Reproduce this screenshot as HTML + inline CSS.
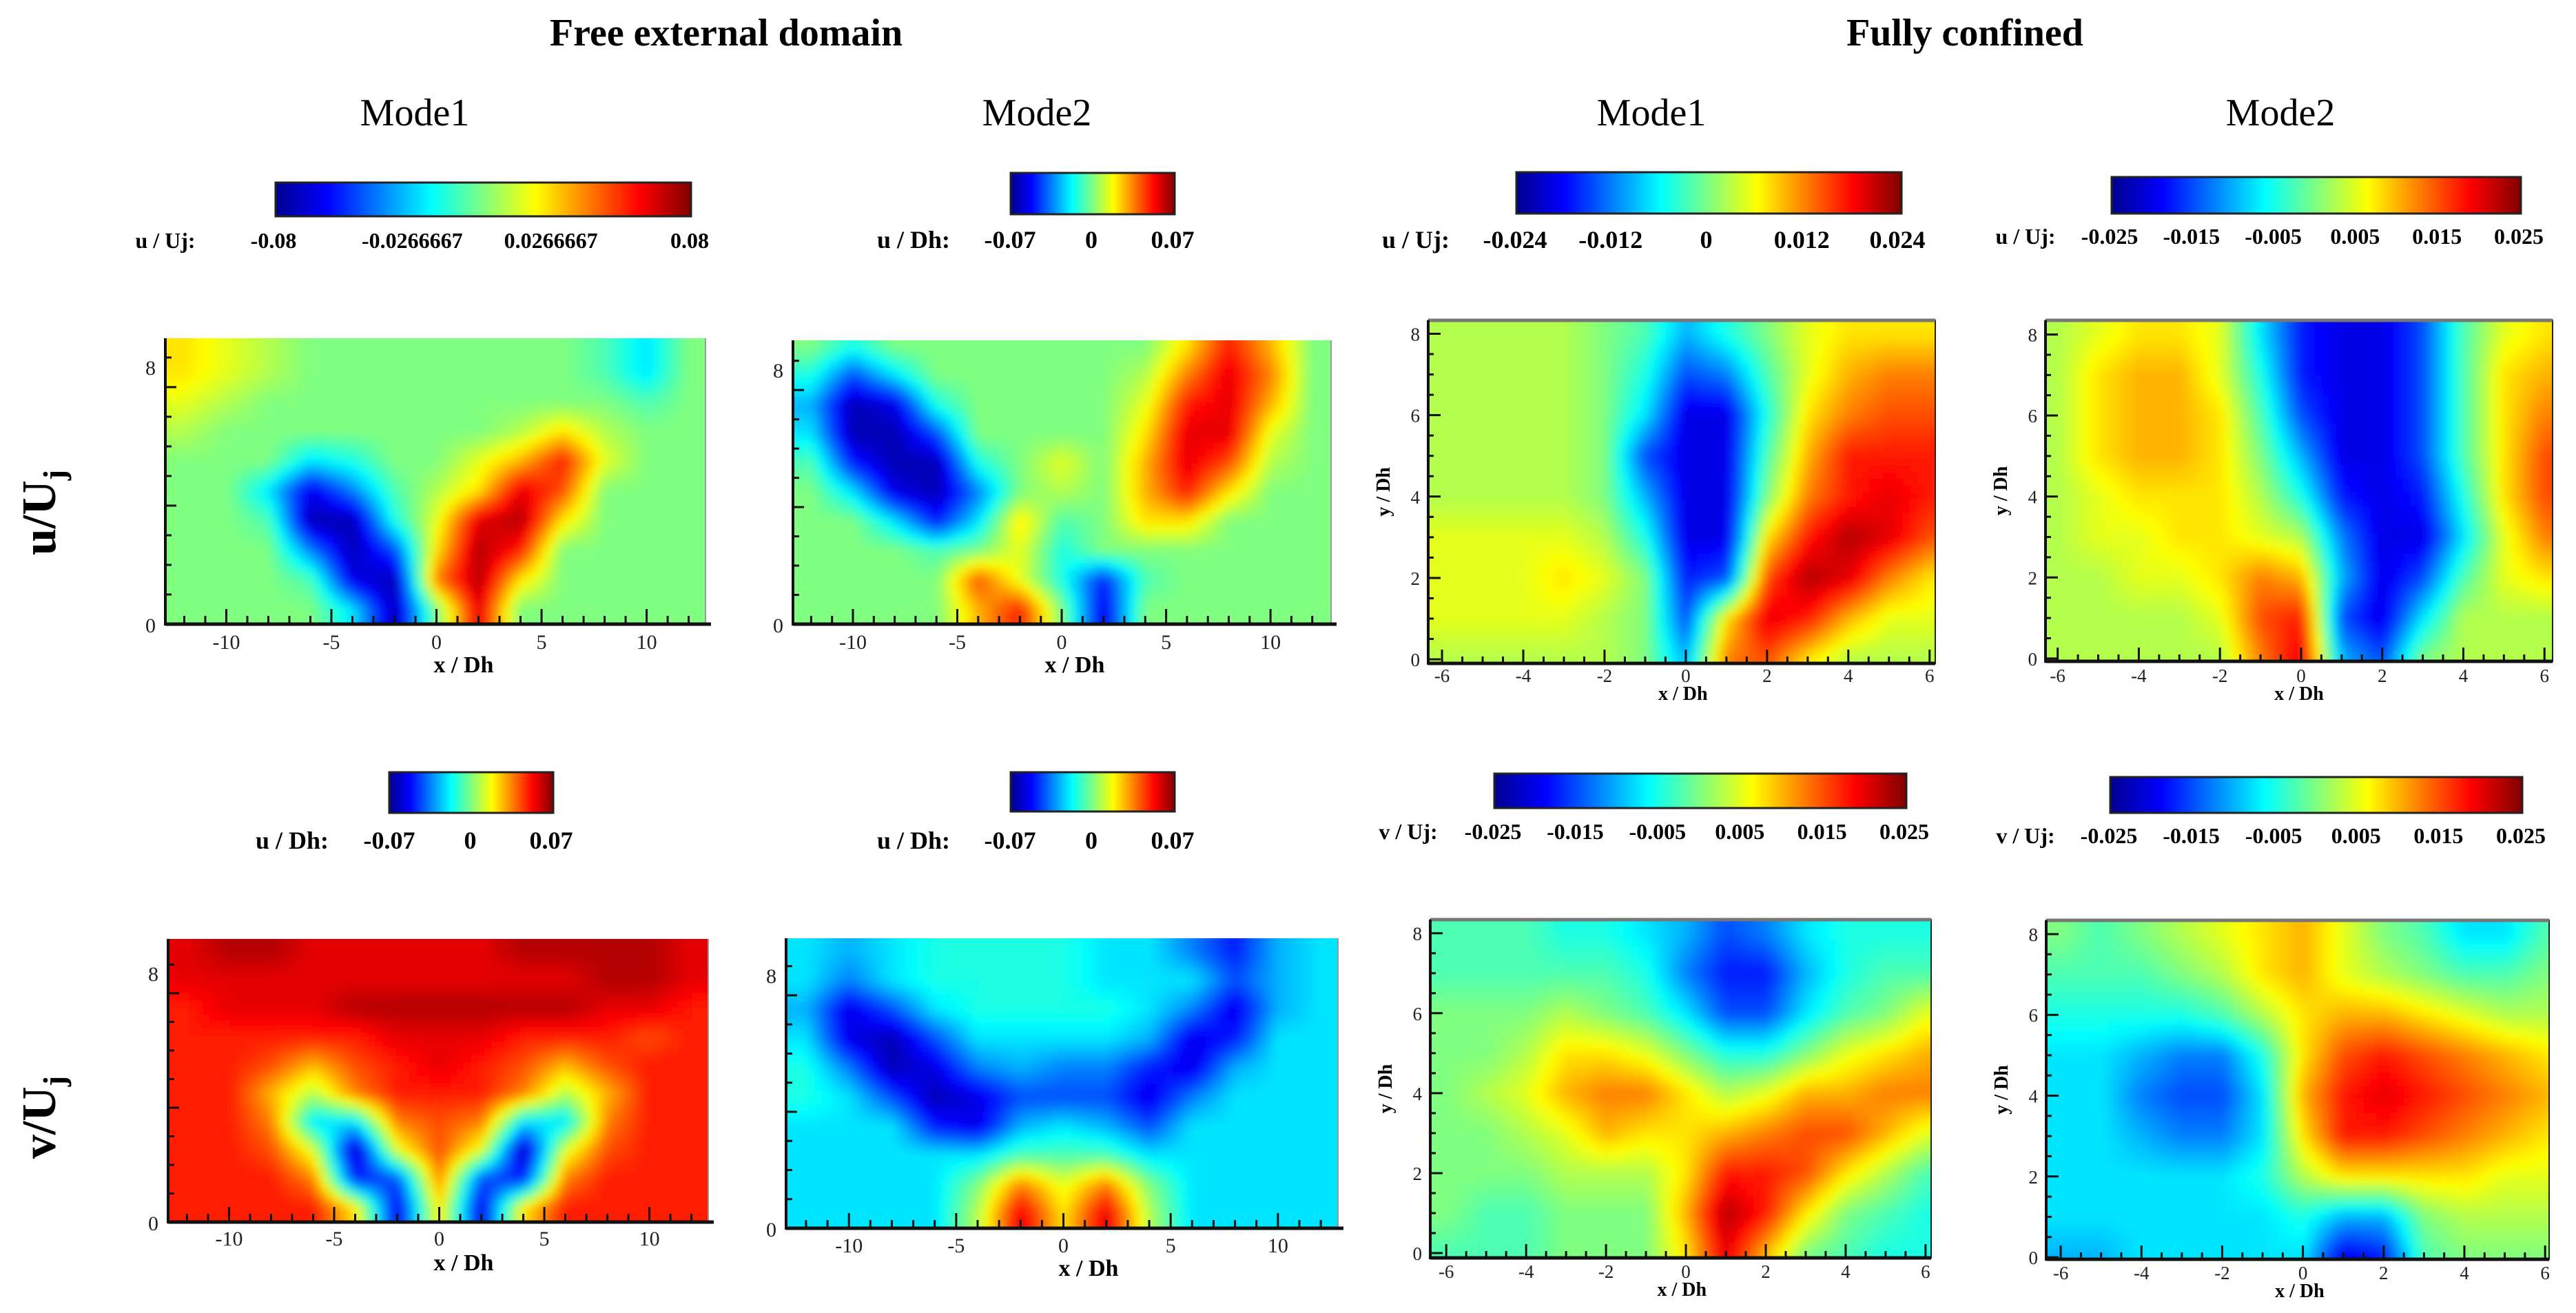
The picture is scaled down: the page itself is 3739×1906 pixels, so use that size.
<!DOCTYPE html>
<html><head><meta charset="utf-8"><style>
html,body{margin:0;padding:0;background:#fff;width:3739px;height:1906px;overflow:hidden;}
svg{display:block;font-family:"Liberation Serif",serif;}
</style></head><body>
<svg id="fig" xmlns="http://www.w3.org/2000/svg" width="3739" height="1906" viewBox="0 0 3739 1906">
<defs>
<linearGradient id="jetGrad" x1="0" x2="1" y1="0" y2="0">
<stop offset="0" stop-color="#00008f"/><stop offset="0.125" stop-color="#0000ff"/><stop offset="0.375" stop-color="#00ffff"/><stop offset="0.5" stop-color="#80ff80"/><stop offset="0.625" stop-color="#ffff00"/><stop offset="0.875" stop-color="#ff0000"/><stop offset="1" stop-color="#800000"/>
</linearGradient>
<filter id="blurSoft" x="-0.1" y="-0.1" width="1.2" height="1.2"><feGaussianBlur stdDeviation="7"/></filter>
</defs>
<text x="1054" y="66" font-size="56" font-weight="bold" text-anchor="middle">Free external domain</text>
<text x="2852" y="66" font-size="56" font-weight="bold" text-anchor="middle">Fully confined</text>
<text x="602" y="182" font-size="56" text-anchor="middle">Mode1</text>
<text x="1505" y="182" font-size="56" text-anchor="middle">Mode2</text>
<text x="2397" y="182" font-size="56" text-anchor="middle">Mode1</text>
<text x="3310" y="182" font-size="56" text-anchor="middle">Mode2</text>
<text transform="translate(80,744) rotate(-90)" font-size="70" font-weight="bold" text-anchor="middle">u/U<tspan font-size="46" dy="14">j</tspan></text>
<text transform="translate(80,1622) rotate(-90)" font-size="70" font-weight="bold" text-anchor="middle">v/U<tspan font-size="46" dy="14">j</tspan></text>
</svg>
<script>
const freeXCenters=[-12,-10,-8,-6,-4,-2,0,2,4,6,8,10,12];
const freeYCenters=[9.5,8.5,7.5,6.5,5.5,4.5,3.5,2.5,1.5,0.5];
const confXCenters=[-6,-5,-4,-3,-2,-1,0,1,2,3,4,5,6];
const confYCenters=[8,7,6,5,4,3,2,1,0];
const p1Values=[
[3,2,1,0,0,0,0,0,0,0,-1,-3,0],
[3,2,1,0,0,0,0,0,0,0,-1,-3,0],
[2,1,0,0,0,0,0,0,0,0,0,-1,0],
[1,0,0,0,0,0,0,0,1,3,1,0,0],
[0,0,0,-3,-2,0,0,2,4,7,2,0,0],
[0,0,-3,-8,-5,-1,1,3,8,6,0,0,0],
[0,0,-1,-9,-9,-2,2,8,9,3,0,0,0],
[0,0,0,-5,-9,-6,3,9,7,0,0,0,0],
[0,0,0,-1,-8,-9,5,9,3,0,0,0,0],
[0,0,0,0,-3,-9,0,8,0,0,0,0,0]];
const p2Values=[
[0,-2,0,0,0,0,0,0,0,3,7,4,0],
[-2,-6,-3,0,0,0,0,0,1,5,8,5,0],
[-4,-9,-8,-2,0,0,0,0,2,7,8,4,0],
[-3,-9,-9,-6,0,0,0,0,3,8,8,2,0],
[-1,-7,-9,-9,-2,0,2,0,4,8,6,1,0],
[0,-3,-8,-9,-5,0,1,0,4,7,3,0,0],
[0,0,-3,-7,-3,3,-1,0,3,3,0,0,0],
[0,0,0,-1,0,2,-2,0,0,0,0,0,0],
[0,0,0,0,6,2,-2,-7,-1,0,0,0,0],
[0,0,0,0,4,7,0,-8,0,0,0,0,0]];
const p5Values=[
[8,9,9,8,8,8,8,8,9,9,9,9,8],
[8,8,8,8,8,8,8,8,8,8,9,9,8],
[7,8,8,8,9,9,9,9,9,9,8,8,7],
[7,7,7,7,7,8,8,8,7,7,7,6,7],
[7,7,6,4,6,7,8,7,6,4,6,7,7],
[7,7,4,1,5,7,7,7,5,1,4,7,7],
[7,7,5,-3,-3,5,6,5,-3,-3,5,7,7],
[7,7,6,2,-9,2,6,2,-9,2,6,7,7],
[7,7,7,5,-7,-6,5,-6,-7,5,7,7,7],
[7,7,7,7,3,-8,3,-8,3,7,7,7,7]];
const p6Values=[
[-3,-4,-3,-2,-2,-2,-2,-3,-3,-5,-7,-4,-3],
[-3,-5,-3,-2,-2,-2,-2,-3,-3,-3,-6,-4,-3],
[-4,-8,-6,-3,-2,-2,-2,-2,-3,-5,-8,-4,-3],
[-3,-8,-9,-6,-3,-3,-3,-3,-4,-8,-7,-3,-3],
[-2,-5,-9,-8,-5,-4,-5,-5,-7,-8,-4,-3,-3],
[-2,-3,-6,-9,-8,-6,-6,-6,-8,-5,-3,-3,-3],
[-3,-3,-3,-7,-8,-4,-3,-4,-6,-3,-3,-3,-3],
[-3,-3,-3,-3,-3,-1,-1,-1,-3,-3,-3,-3,-3],
[-3,-3,-3,-3,0,5,2,5,0,-3,-3,-3,-3],
[-3,-3,-3,-3,1,8,3,8,1,-3,-3,-3,-3]];
const p3Values=[
[1,1,1,1,0,-1,-4,-2,0,2,3,3,3],
[1,1,1,1,0,-2,-6,-5,-1,2,4,5,5],
[1,1,1,1,0,-3,-8,-8,-2,3,5,6,6],
[1,1,1,1,0,-6,-8,-8,-1,4,7,7,7],
[1,1,1,1,0,-4,-8,-8,0,5,7,8,7],
[2,2,2,2,1,-2,-8,-8,3,7,9,8,6],
[2,2,2,3,2,0,-7,-6,6,9,8,5,3],
[2,2,2,2,1,0,-6,3,8,7,4,2,2],
[1,1,1,1,1,0,-4,5,6,3,1,1,1]];
const p4Values=[
[1,2,3,3,2,-3,-7,-8,-8,-6,-1,2,3],
[1,3,4,4,2,-2,-7,-8,-8,-6,-1,3,4],
[1,3,4,4,3,-1,-6,-8,-8,-6,-1,3,5],
[1,3,4,4,3,0,-4,-8,-8,-6,-1,3,6],
[1,2,3,3,3,1,-2,-7,-8,-7,-2,3,6],
[1,2,2,3,3,2,1,-5,-8,-8,-3,2,5],
[1,1,2,2,3,5,4,-4,-8,-6,-1,2,3],
[1,1,1,1,2,6,7,-6,-8,-3,1,1,1],
[1,1,1,1,1,5,8,-4,-6,0,1,1,1]];
const p7Values=[
[-1,-1,-1,-2,-2,-3,-4,-6,-5,-3,-2,-2,-2],
[-1,-1,-1,-1,-1,-2,-5,-7,-7,-4,-2,-1,-1],
[0,0,0,1,0,-1,-3,-6,-6,-3,-1,0,2],
[0,0,1,3,3,2,0,-2,-2,0,2,3,4],
[0,1,2,4,5,5,3,1,2,4,4,5,5],
[0,0,1,2,4,3,3,4,5,6,6,4,2],
[0,0,0,1,1,1,3,7,7,6,3,1,-1],
[0,-1,-1,0,0,0,4,9,7,3,0,-1,-2],
[-1,-1,-1,0,0,0,3,8,4,0,-1,-2,-2]];
const p8Values=[
[0,-1,0,1,2,3,4,2,0,-1,-3,-3,-1],
[-1,-1,-1,0,1,3,4,2,1,0,-1,-1,0],
[-2,-2,-2,-2,-1,1,3,4,4,3,2,1,1],
[-3,-3,-4,-5,-5,-2,3,6,7,6,5,4,3],
[-3,-3,-5,-6,-6,-3,4,7,8,7,6,5,4],
[-3,-3,-4,-5,-5,-3,3,7,7,6,5,4,3],
[-3,-3,-3,-3,-3,-2,1,3,3,3,3,2,2],
[-3,-3,-3,-3,-3,-3,-2,-4,-4,0,1,1,1],
[-4,-4,-3,-3,-3,-3,-3,-8,-7,-1,0,0,0]];
const freeXTicks=[-10,-5,0,5,10];
const freeYTickLabels=[0,8];
const confXTicks=[-6,-4,-2,0,2,4,6];
const confYTicks=[0,2,4,6,8];
const cb1Labels=["-0.08","-0.0266667","0.0266667","0.08"];
const cbSmallLabels=["-0.07","0","0.07"];
const cb3Labels=["-0.024","-0.012","0","0.012","0.024"];
const cb025Labels=["-0.025","-0.015","-0.005","0.005","0.015","0.025"];

const NS="http://www.w3.org/2000/svg";
const fig=document.getElementById('fig');
function mk(tag,attrs,parent){const e=document.createElementNS(NS,tag);for(const k in attrs)e.setAttribute(k,attrs[k]);(parent||fig).appendChild(e);return e;}
function jet(v){const t=Math.max(0,Math.min(1,(v+1)/2));const c=x=>Math.round(255*Math.max(0,Math.min(1,1.5-Math.abs(4*t-x))));return `rgb(${c(3)},${c(2)},${c(1)})`;}
function sample(vals,xc,yc,x,y){
  const nx=xc.length,ny=yc.length;
  let fx=(x-xc[0])/(xc[nx-1]-xc[0])*(nx-1); fx=Math.max(0,Math.min(nx-1,fx));
  let fy=(yc[0]-y)/(yc[0]-yc[ny-1])*(ny-1); fy=Math.max(0,Math.min(ny-1,fy));
  const i0=Math.min(ny-2,Math.floor(fy)),j0=Math.min(nx-2,Math.floor(fx));
  const ty=fy-i0,tx=fx-j0;
  const a=vals[i0][j0],b=vals[i0][j0+1],c=vals[i0+1][j0],d=vals[i0+1][j0+1];
  return (a*(1-tx)+b*tx)*(1-ty)+(c*(1-tx)+d*tx)*ty;
}

function drawPlot(name,L,R,T,B,x0,x1,y0,y1,xc,yc,vals,free){
  const xs=v=>L+(v-x0)/(x1-x0)*(R-L);
  const ys=v=>B-(v-y0)/(y1-y0)*(B-T);
  const xi=px=>x0+(px-L)/(R-L)*(x1-x0);
  const yi=py=>y0+(B-py)/(B-T)*(y1-y0);
  const g=mk('g',{});
  
  
  const inner=mk('svg',{x:L,y:T,width:R-L,height:B-T,overflow:'hidden'},g);
  const cg=mk('g',{filter:'url(#blurSoft)',transform:`translate(${-L},${-T})`},inner);
  const step=10;
  for(let py=T-20;py<B+20;py+=step){
    for(let px=L-20;px<R+20;px+=step){
      const v=sample(vals,xc,yc,xi(px+step/2),yi(py+step/2));
      const r=mk('rect',{x:px,y:py,width:step+0.6,height:step+0.6,fill:jet(v/10)},cg);
      
      
    }
  }
  if(free){
    mk('line',{x1:R,y1:T,x2:R,y2:B,stroke:'#999','stroke-width':2},g);
  }else{
    mk('rect',{x:L,y:T,width:R-L,height:B-T,fill:'none',stroke:'#222','stroke-width':2},g);
    mk('line',{x1:L,y1:T,x2:R,y2:T,stroke:'#777','stroke-width':5},g);
  }
  mk('line',{x1:L,y1:T,x2:L,y2:B+2,stroke:'#111','stroke-width':4},g);
  mk('line',{x1:L,y1:B,x2:R+(free?8:0),y2:B,stroke:'#111','stroke-width':5},g);
  return {xs,ys,g};
}

function freeAxes(p,L,B,lblX,lblY,tlY){
  for(let v=-12;v<=12;v++){
    const maj=v%5===0;
    mk('line',{x1:p.xs(v),y1:B,x2:p.xs(v),y2:B-(maj?22:12),stroke:'#111','stroke-width':3},p.g);
  }
  freeXTicks.forEach(v=>{
    const t=mk('text',{x:p.xs(v),y:tlY,'font-size':30,'text-anchor':'middle',fill:'#222'},p.g);t.textContent=String(v);
    
  });
  for(let v=1;v<=9;v++){
    const maj=v%4===0;
    mk('line',{x1:L,y1:p.ys(v),x2:L+(maj?16:9),y2:p.ys(v),stroke:'#111','stroke-width':3},p.g);
  }
  freeYTickLabels.forEach(v=>{
    const t=mk('text',{x:L-14,y:p.ys(v)+(v===0?12:-18),'font-size':30,'text-anchor':'end',fill:'#222'},p.g);t.textContent=String(v);
    
  });
  const xl=mk('text',{x:lblX,y:lblY,'font-size':34,'font-weight':'bold','text-anchor':'middle'},p.g);xl.textContent='x / Dh';
  
}
function confAxes(p,L,T,B,tlY,lblY){
  for(let v=-6;v<=6;v+=0.5){
    const maj=Number.isInteger(v/2);
    mk('line',{x1:p.xs(v),y1:B,x2:p.xs(v),y2:B-(maj?20:10),stroke:'#111','stroke-width':3},p.g);
  }
  confXTicks.forEach(v=>{
    const t=mk('text',{x:p.xs(v),y:tlY,'font-size':27,'text-anchor':'middle',fill:'#222'},p.g);t.textContent=String(v);
    
  });
  for(let v=0;v<=8;v+=0.5){
    const maj=Number.isInteger(v/2);
    mk('line',{x1:L,y1:p.ys(v),x2:L+(maj?18:8),y2:p.ys(v),stroke:'#111','stroke-width':3},p.g);
  }
  confYTicks.forEach(v=>{
    const t=mk('text',{x:L-12,y:p.ys(v)+10,'font-size':27,'text-anchor':'end',fill:'#222'},p.g);t.textContent=String(v);
    
  });
  const xl=mk('text',{x:(L+p.xs(6.2))/2,y:lblY,'font-size':28,'font-weight':'bold','text-anchor':'middle'},p.g);xl.textContent='x / Dh';
  
  const yl=mk('text',{transform:`translate(${L-56},${(T+B)/2}) rotate(-90)`,'font-size':28,'font-weight':'bold','text-anchor':'middle'},p.g);yl.textContent='y / Dh';
  
}

let p;
p=drawPlot('plot-free-u-mode1',240,1024,491,906,-12.9,12.8,0,9.65,freeXCenters,freeYCenters,p1Values,true);
freeAxes(p,240,906,673,976,942);
p=drawPlot('plot-free-u-mode2',1151,1932,494,906,-12.87,12.9,0,9.7,freeXCenters,freeYCenters,p2Values,true);
freeAxes(p,1151,906,1560,976,942);
p=drawPlot('plot-free-v-mode1',244,1028,1363,1774,-12.9,12.8,0,9.9,freeXCenters,freeYCenters,p5Values,true);
freeAxes(p,244,1774,673,1844,1808);
p=drawPlot('plot-free-v-mode2',1141,1942,1362,1783,-12.93,12.8,0,9.96,freeXCenters,freeYCenters,p6Values,true);
freeAxes(p,1141,1783,1580,1852,1818);
p=drawPlot('plot-confined-u-mode1',2073,2809,465,963,-6.34,6.14,-0.1,8.33,confXCenters,confYCenters,p3Values,false);
confAxes(p,2073,465,963,990,1016);
p=drawPlot('plot-confined-u-mode2',2969,3705,465,960,-6.3,6.2,-0.07,8.35,confXCenters,confYCenters,p4Values,false);
confAxes(p,2969,465,960,990,1016);
p=drawPlot('plot-confined-v-mode1',2076,2803,1335,1826,-6.4,6.14,-0.12,8.34,confXCenters,confYCenters,p7Values,false);
confAxes(p,2076,1335,1826,1855,1881);
p=drawPlot('plot-confined-v-mode2',2970,3700,1336,1828,-6.36,6.1,-0.05,8.34,confXCenters,confYCenters,p8Values,false);
confAxes(p,2970,1336,1828,1857,1883);

function colorbar(name,L,R,T,B,title,titleX,labels,labelL,labelR,baseY,fs){
  const g=mk('g',{});
  
  
  mk('rect',{x:L,y:T,width:R-L,height:B-T,fill:'url(#jetGrad)',stroke:'#222','stroke-width':3},g);
  const tt=mk('text',{x:titleX,y:baseY,'font-size':fs,'font-weight':'bold','text-anchor':'middle'},g);tt.textContent=title;
  
  labels.forEach((s,i)=>{
    const x=labelL+(labelR-labelL)*i/(labels.length-1);
    const t=mk('text',{x:x,y:baseY,'font-size':fs,'font-weight':'bold','text-anchor':'middle'},g);t.textContent=s;
    
  });
}
colorbar('colorbar-free-u-mode1',400,1003,265,314,'u / Uj:',240,cb1Labels,397,1001,360,32);
colorbar('colorbar-free-u-mode2',1467,1705,251,311,'u / Dh:',1326,cbSmallLabels,1466,1702,360,36);
colorbar('colorbar-confined-u-mode1',2201,2760,250,310,'u / Uj:',2055,cb3Labels,2199,2754,360,36);
colorbar('colorbar-confined-u-mode2',3065,3659,257,310,'u / Uj:',2940,cb025Labels,3062,3656,354,32);
colorbar('colorbar-free-v-mode1',565,803,1121,1180,'u / Dh:',424,cbSmallLabels,565,800,1232,36);
colorbar('colorbar-free-v-mode2',1467,1705,1121,1178,'u / Dh:',1326,cbSmallLabels,1466,1702,1232,36);
colorbar('colorbar-confined-v-mode1',2169,2767,1123,1173,'v / Uj:',2044,cb025Labels,2167,2764,1218,32);
colorbar('colorbar-confined-v-mode2',3063,3661,1128,1180,'v / Uj:',2940,cb025Labels,3061,3659,1224,32);
</script>
</body></html>
